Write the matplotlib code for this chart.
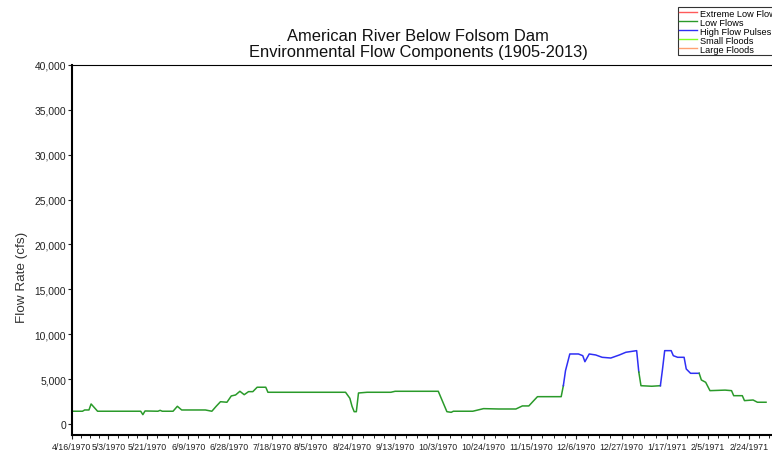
import matplotlib
matplotlib.use("Agg")
import matplotlib.pyplot as plt
from matplotlib.lines import Line2D
from datetime import datetime, timedelta

plt.rcParams['font.family'] = ['Liberation Sans', 'DejaVu Sans']

# Daily flow record (cfs) with its environmental flow component
dates = [
    "4/16/1970", "4/21/1970", "4/22/1970", "4/24/1970", "4/25/1970", "4/28/1970",
    "5/18/1970", "5/19/1970", "5/20/1970", "5/26/1970", "5/27/1970", "5/28/1970",
    "6/2/1970", "6/4/1970", "6/6/1970", "6/17/1970", "6/20/1970", "6/22/1970",
    "6/24/1970", "6/27/1970", "6/29/1970", "7/1/1970", "7/3/1970", "7/5/1970",
    "7/7/1970", "7/9/1970", "7/11/1970", "7/15/1970", "7/16/1970", "8/21/1970",
    "8/23/1970", "8/24/1970", "8/25/1970", "8/26/1970", "8/27/1970", "8/31/1970",
    "9/11/1970", "9/13/1970", "10/3/1970", "10/7/1970", "10/9/1970", "10/10/1970",
    "10/19/1970", "10/24/1970", "10/31/1970", "11/8/1970", "11/11/1970", "11/14/1970",
    "11/16/1970", "11/18/1970", "11/29/1970", "11/30/1970", "12/1/1970", "12/3/1970",
    "12/7/1970", "12/9/1970", "12/10/1970", "12/12/1970", "12/15/1970", "12/18/1970",
    "12/22/1970", "12/26/1970", "12/29/1970", "1/3/1971", "1/4/1971", "1/5/1971",
    "1/10/1971", "1/14/1971", "1/15/1971", "1/16/1971", "1/19/1971", "1/20/1971",
    "1/22/1971", "1/25/1971", "1/26/1971", "1/28/1971", "2/1/1971", "2/2/1971",
    "2/4/1971", "2/6/1971", "2/13/1971", "2/16/1971", "2/17/1971", "2/21/1971",
    "2/22/1971", "2/26/1971", "2/28/1971", "3/4/1971",
]
flows = [
    1450, 1450, 1590, 1590, 2260, 1450,
    1450, 1070, 1480, 1450, 1550, 1450,
    1450, 2000, 1590, 1590, 1450, 2000,
    2510, 2450, 3150, 3260, 3670, 3290,
    3630, 3630, 4120, 4120, 3560, 3560,
    2890, 2000, 1400, 1400, 3480, 3560,
    3560, 3670, 3670, 1400, 1330, 1450,
    1450, 1740, 1700, 1700, 2040, 2040,
    2560, 3070, 3070, 4290, 5960, 7820,
    7820, 7630, 6960, 7820, 7710, 7450,
    7370, 7710, 8010, 8190, 5800, 4290,
    4230, 4290, 6150, 8190, 8190, 7630,
    7450, 7450, 6150, 5670, 5670, 4930,
    4670, 3740, 3800, 3740, 3180, 3180,
    2630, 2700, 2450, 2450,
]
component = (
    ["Low Flows"] * 52
    + ["High Flow Pulses"] * 13
    + ["Low Flows"] * 3
    + ["High Flow Pulses"] * 9
    + ["Low Flows"] * 11
)

tick_labels = [
    "4/16/1970", "5/3/1970", "5/21/1970", "6/9/1970", "6/28/1970", "7/18/1970",
    "8/5/1970", "8/24/1970", "9/13/1970", "10/3/1970", "10/24/1970", "11/15/1970",
    "12/6/1970", "12/27/1970", "1/17/1971", "2/5/1971", "2/24/1971",
]

legend_names = ["Extreme Low Flows", "Low Flows", "High Flow Pulses",
                "Small Floods", "Large Floods"]
legend_colors = ["#ff5a5a", "#2a9a2a", "#2f2ff5", "#80ff20", "#ffa070"]
comp_color = dict(zip(legend_names, legend_colors))


def parse(d):
    return datetime.strptime(d, "%m/%d/%Y")


x = [parse(d) for d in dates]

W, H = 772, 452
fig = plt.figure(figsize=(W / 100, H / 100), dpi=100)
left_px, bottom_px, top_px, right_px = 71.7, 435.7, 65.7, 800
ax = fig.add_axes([left_px / W, 1 - bottom_px / H,
                   (right_px - left_px) / W, (bottom_px - top_px) / H])

# Draw each run of a component, joined to the previous point
start = 0
n = len(x)
for k in range(1, n + 1):
    if k == n or component[k] != component[start]:
        s = max(start - 1, 0)
        ax.plot(x[s:k], flows[s:k], color=comp_color[component[start]],
                lw=1.1, solid_joinstyle="round")
        start = k

px_per_day = 2.198
x0 = parse("4/16/1970")
ax.set_xlim(x0, x0 + timedelta(days=(right_px - left_px) / px_per_day))
ax.set_ylim(-1160, 40000)

major = [parse(t) for t in tick_labels]
ax.set_xticks(major)
ax.set_xticklabels(tick_labels)
minor = []
for a, b in zip(major[:-1], major[1:]):
    for q in (1, 2, 3):
        minor.append(a + (b - a) * q / 4)
for q in (1, 2, 3, 4, 5):
    minor.append(major[-1] + (major[-1] - major[-2]) * q / 4)
ax.set_xticks(minor, minor=True)

yt = list(range(0, 40001, 5000))
ax.set_yticks(yt)
ax.set_yticklabels([f"{v:,}" for v in yt])

ax.tick_params(axis="x", which="major", length=3, width=0.8, pad=2,
               labelsize=6.3, colors="#222222")
ax.tick_params(axis="x", which="minor", length=2, width=0.6)
ax.tick_params(axis="y", which="major", length=3, width=0.8, pad=1,
               labelsize=7.4, colors="#222222")

for side in ("left", "bottom"):
    ax.spines[side].set_linewidth(1.5)
ax.spines["top"].set_linewidth(0.8)
ax.spines["right"].set_visible(False)

ax.set_ylabel("Flow Rate (cfs)", fontsize=9.7, color="#333333")
ax.yaxis.set_label_coords((28 - left_px) / (right_px - left_px),
                          (bottom_px - 277) / (bottom_px - top_px))

fig.text(418 / W, 1 - 36.5 / H, "American River Below Folsom Dam",
         ha="center", va="center", fontsize=11.9, color="#111111")
fig.text(418 / W, 1 - 52.5 / H, "Environmental Flow Components (1905-2013)",
         ha="center", va="center", fontsize=11.9, color="#111111")

handles = [Line2D([0], [0], color=c, lw=1.0) for c in legend_colors]
leg = fig.legend(handles, legend_names, loc="upper left",
                 bbox_to_anchor=(678 / W, 1 - 8.3 / H), fontsize=6.6,
                 frameon=True, fancybox=False, edgecolor="black",
                 handlelength=1.9, handletextpad=0.3, labelspacing=0.0,
                 borderpad=0.15, borderaxespad=0)
leg.get_frame().set_linewidth(0.8)

fig.savefig("out.png", dpi=100)
